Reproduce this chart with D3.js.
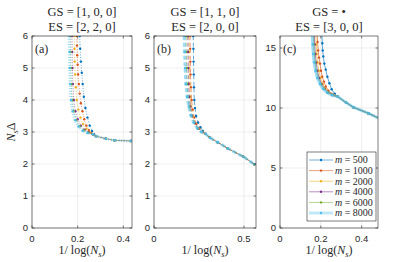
<!DOCTYPE html>
<html>
<head>
<meta charset="utf-8">
<script src="https://cdn.jsdelivr.net/npm/d3@7"></script>
<style>
body { margin: 0; background: #fff; }
svg text { fill: #262626; }
.tick { font-family: "Liberation Sans", Arial, sans-serif; font-size: 9.5px; }
.tex { font-family: "Liberation Serif", "DejaVu Serif", serif; }
</style>
</head>
<body>
<div id="chart"></div>
<script>
// legend series
var mValues = [500, 1000, 2000, 4000, 6000, 8000];
var colors = ["#0072BD", "#D95319", "#EDB120", "#7E2F8E", "#77AC30", "#4DBEEE"];

// panel texts
var gsLabels = ["[1, 0, 0]", "[1, 1, 0]", "\u2022"];
var esLabels = ["[2, 2, 0]", "[2, 0, 0]", "[3, 0, 0]"];
var panelTags = ["(a)", "(b)", "(c)"];

// ticks
var xTicksA = [0, 0.2, 0.4], yTicksA = [0, 1, 2, 3, 4, 5, 6];
var xTicksB = [0, 0.5],      yTicksB = [0, 1, 2, 3, 4, 5, 6];
var xTicksC = [0, 0.2, 0.4], yTicksC = [0, 5, 10, 15];

// (a) one array per m, [1/log(Ns), Ns*Delta]
var curvesA = [
  [[0.208,6.4],[0.209,6.0],[0.211,5.6],[0.214,5.2],[0.218,4.85],[0.222,4.5],[0.227,4.1],[0.234,3.75],[0.243,3.45],[0.253,3.2],[0.263,3.03],[0.272,2.93]],
  [[0.195,6.4],[0.196,6.0],[0.197,5.7],[0.198,5.4],[0.2,5.1],[0.202,4.8],[0.205,4.5],[0.209,4.2],[0.214,3.9],[0.221,3.65],[0.229,3.4],[0.238,3.2],[0.249,3.06],[0.26,2.97],[0.27,2.92]],
  [[0.184,6.4],[0.185,6.0],[0.186,5.6],[0.187,5.2],[0.189,4.8],[0.192,4.4],[0.196,4.0],[0.203,3.7],[0.212,3.45],[0.224,3.25],[0.238,3.1],[0.252,3.0],[0.267,2.93]],
  [[0.174,6.4],[0.175,6.0],[0.176,5.5],[0.177,5.0],[0.179,4.5],[0.183,4.0],[0.19,3.65],[0.2,3.4],[0.214,3.2],[0.23,3.07],[0.248,2.99],[0.267,2.93]],
  [[0.167,6.4],[0.168,6.0],[0.169,5.5],[0.17,5.0],[0.172,4.5],[0.176,4.0],[0.183,3.65],[0.194,3.38],[0.209,3.18],[0.227,3.05],[0.246,2.98],[0.267,2.93]],
  [[0.162,6.4],[0.163,6.0],[0.164,5.5],[0.165,5.0],[0.167,4.5],[0.171,4.0],[0.178,3.65],[0.189,3.37],[0.204,3.17],[0.222,3.04],[0.243,2.97],[0.267,2.93]]
];
var tailA = [[0.281,2.87],[0.3235,2.79],[0.361,2.74],[0.434,2.72]];

// (b)
var curvesB = [
  [[0.218,6.4],[0.218,6.0],[0.219,5.6],[0.22,5.2],[0.221,4.8],[0.222,4.4],[0.224,4.0],[0.228,3.75],[0.234,3.5],[0.245,3.3],[0.258,3.15],[0.272,3.03],[0.287,2.94]],
  [[0.2,6.4],[0.2,6.0],[0.201,5.6],[0.202,5.2],[0.203,4.8],[0.205,4.4],[0.209,4.0],[0.215,3.7],[0.224,3.45],[0.236,3.25],[0.252,3.1],[0.27,3.0],[0.287,2.94]],
  [[0.194,6.4],[0.194,6.0],[0.195,5.5],[0.196,5.0],[0.198,4.5],[0.201,4.1],[0.206,3.8],[0.215,3.5],[0.229,3.27],[0.248,3.1],[0.268,3.0],[0.287,2.94]],
  [[0.188,6.4],[0.188,6.0],[0.189,5.5],[0.19,5.0],[0.192,4.5],[0.196,4.1],[0.202,3.8],[0.212,3.5],[0.227,3.27],[0.246,3.1],[0.267,3.0],[0.287,2.94]],
  [[0.177,6.4],[0.178,6.0],[0.179,5.5],[0.181,5.0],[0.184,4.5],[0.189,4.1],[0.196,3.8],[0.207,3.52],[0.223,3.29],[0.243,3.11],[0.265,3.0],[0.287,2.94]],
  [[0.167,6.4],[0.168,6.0],[0.17,5.5],[0.173,5.0],[0.177,4.5],[0.184,4.1],[0.193,3.8],[0.205,3.52],[0.221,3.29],[0.242,3.11],[0.264,3.0],[0.287,2.94]]
];
var tailB = [[0.311,2.82],[0.354,2.68],[0.409,2.49],[0.496,2.23],[0.558,1.99]];

// (c)
var curvesC = [
  [[0.204,16.6],[0.207,15.4],[0.209,14.8],[0.212,14.3],[0.217,13.7],[0.224,13.2],[0.232,12.6],[0.242,12.06],[0.253,11.56],[0.268,11.2],[0.283,10.95]],
  [[0.18,16.6],[0.184,15.5],[0.187,14.8],[0.191,14.2],[0.196,13.7],[0.201,13.1],[0.207,12.6],[0.215,12.2],[0.224,11.8],[0.237,11.45],[0.252,11.2],[0.268,11.05],[0.283,10.95]],
  [[0.174,16.6],[0.177,15.3],[0.18,14.5],[0.184,13.8],[0.19,13.1],[0.198,12.5],[0.209,12.0],[0.223,11.6],[0.24,11.3],[0.26,11.1],[0.283,10.95]],
  [[0.167,16.6],[0.17,15.3],[0.173,14.5],[0.177,13.8],[0.183,13.1],[0.192,12.5],[0.203,12.0],[0.218,11.6],[0.236,11.3],[0.258,11.08],[0.283,10.95]],
  [[0.162,16.6],[0.165,15.3],[0.168,14.5],[0.172,13.8],[0.178,13.1],[0.187,12.5],[0.199,12.0],[0.215,11.6],[0.234,11.3],[0.257,11.08],[0.283,10.95]],
  [[0.157,16.6],[0.16,15.3],[0.163,14.5],[0.167,13.8],[0.174,13.1],[0.183,12.5],[0.196,12.0],[0.212,11.58],[0.231,11.28],[0.255,11.07],[0.283,10.95]]
];
var tailC = [[0.3235,10.45],[0.361,10.05],[0.434,9.55],[0.558,8.55]];

var panels = [
  { curves: curvesA, tail: tailA, xd: [0, 0.438], yd: [0, 6],  left: 32,  right: 132, xt: xTicksA, yt: yTicksA, dash: "1,1.6" },
  { curves: curvesB, tail: tailB, xd: [0, 0.567], yd: [0, 6],  left: 154, right: 256, xt: xTicksB, yt: yTicksB, dash: "4,2.5" },
  { curves: curvesC, tail: tailC, xd: [0, 0.48],  yd: [0, 16], left: 280, right: 378, xt: xTicksC, yt: yTicksC, dash: null }
];

var plotTop = 36, plotBottom = 228;

var svg = d3.select("#chart").append("svg")
    .attr("width", 399)
    .attr("height", 262);

panels.forEach(function(p, i) {
    var x = d3.scaleLinear().domain(p.xd).range([p.left, p.right]);
    var y = d3.scaleLinear().domain(p.yd).range([plotBottom, plotTop]);
    var g = svg.append("g");

    g.append("clipPath").attr("id", "clip" + i)
        .append("rect")
        .attr("x", p.left).attr("y", plotTop)
        .attr("width", p.right - p.left).attr("height", plotBottom - plotTop);

    // grid
    g.selectAll(".gx").data(p.xt).enter().append("line")
        .attr("x1", d => x(d)).attr("x2", d => x(d))
        .attr("y1", plotTop).attr("y2", plotBottom)
        .attr("stroke", "#e3e3e3").attr("stroke-width", 0.6);
    g.selectAll(".gy").data(p.yt).enter().append("line")
        .attr("x1", p.left).attr("x2", p.right)
        .attr("y1", d => y(d)).attr("y2", d => y(d))
        .attr("stroke", "#e3e3e3").attr("stroke-width", 0.6);

    var line = d3.line().x(d => x(d[0])).y(d => y(d[1]));
    var plot = g.append("g").attr("clip-path", "url(#clip" + i + ")");

    p.curves.forEach(function(c, k) {
        var pts = c.concat(p.tail);
        var big = k == 5;
        plot.append("path")
            .datum(pts)
            .attr("d", line)
            .attr("fill", "none")
            .attr("stroke", colors[k])
            .attr("stroke-opacity", big ? 0.55 : 0.7)
            .attr("stroke-width", big ? 3 : 0.9)
            .attr("stroke-dasharray", p.dash);
        plot.selectAll(".m" + k).data(pts).enter().append("circle")
            .attr("cx", d => x(d[0])).attr("cy", d => y(d[1]))
            .attr("r", 1.2)
            .attr("fill", colors[k]);
    });

    // box
    g.append("rect")
        .attr("x", p.left).attr("y", plotTop)
        .attr("width", p.right - p.left).attr("height", plotBottom - plotTop)
        .attr("fill", "none").attr("stroke", "#262626").attr("stroke-width", 0.6);

    // ticks, all four sides
    p.xt.forEach(function(t) {
        g.append("line").attr("x1", x(t)).attr("x2", x(t)).attr("y1", plotBottom).attr("y2", plotBottom - 2.5)
            .attr("stroke", "#262626").attr("stroke-width", 0.6);
        g.append("line").attr("x1", x(t)).attr("x2", x(t)).attr("y1", plotTop).attr("y2", plotTop + 2.5)
            .attr("stroke", "#262626").attr("stroke-width", 0.6);
        g.append("text").attr("class", "tick")
            .attr("x", x(t)).attr("y", plotBottom + 14)
            .attr("text-anchor", "middle")
            .text(t);
    });
    p.yt.forEach(function(t) {
        g.append("line").attr("x1", p.left).attr("x2", p.left + 2.5).attr("y1", y(t)).attr("y2", y(t))
            .attr("stroke", "#262626").attr("stroke-width", 0.6);
        g.append("line").attr("x1", p.right).attr("x2", p.right - 2.5).attr("y1", y(t)).attr("y2", y(t))
            .attr("stroke", "#262626").attr("stroke-width", 0.6);
        g.append("text").attr("class", "tick")
            .attr("x", p.left - 4).attr("y", y(t) + 3.4)
            .attr("text-anchor", "end")
            .text(t);
    });

    var cx = (p.left + p.right) / 2;
    g.append("text").attr("class", "tex")
        .attr("x", cx).attr("y", 16).attr("text-anchor", "middle")
        .attr("font-size", "12.5px")
        .text("GS = " + gsLabels[i]);
    g.append("text").attr("class", "tex")
        .attr("x", cx).attr("y", 30.5).attr("text-anchor", "middle")
        .attr("font-size", "12.5px")
        .text("ES = " + esLabels[i]);

    g.append("text").attr("class", "tex")
        .attr("x", p.left + 3).attr("y", 53)
        .attr("font-size", "12px")
        .text(panelTags[i]);

    // x label
    var xl = g.append("text").attr("class", "tex")
        .attr("x", cx).attr("y", 254).attr("text-anchor", "middle")
        .attr("font-size", "12px");
    xl.append("tspan").text("1/ log(");
    xl.append("tspan").attr("font-style", "italic").text("N");
    xl.append("tspan").attr("font-style", "italic").attr("font-size", "8.5px").attr("dy", 2.5).text("s");
    xl.append("tspan").attr("dy", -2.5).text(")");
});

// y label
var yl = svg.append("text").attr("class", "tex")
    .attr("transform", "translate(15,132) rotate(-90)")
    .attr("text-anchor", "middle")
    .attr("font-size", "12px");
yl.append("tspan").attr("font-style", "italic").text("N");
yl.append("tspan").attr("font-style", "italic").attr("font-size", "8.5px").attr("dy", 2.5).text("s");
yl.append("tspan").attr("dy", -2.5).text("\u0394");

// legend in panel (c)
var lg = svg.append("g");
lg.append("rect")
    .attr("x", 307).attr("y", 152).attr("width", 69).attr("height", 69)
    .attr("fill", "#fff").attr("stroke", "#262626").attr("stroke-width", 0.6);
mValues.forEach(function(m, k) {
    var ly = 160 + k * 10.6;
    lg.append("line")
        .attr("x1", 309).attr("x2", 333).attr("y1", ly).attr("y2", ly)
        .attr("stroke", colors[k])
        .attr("stroke-opacity", k == 5 ? 0.35 : 0.6)
        .attr("stroke-width", k == 5 ? 3 : 0.9);
    lg.append("circle").attr("cx", 321).attr("cy", ly).attr("r", 1.2).attr("fill", colors[k]);
    var t = lg.append("text").attr("class", "tex")
        .attr("x", 335).attr("y", ly + 3.3)
        .attr("font-size", "10px");
    t.append("tspan").attr("font-style", "italic").text("m");
    t.append("tspan").text(" = " + m);
});
</script>
</body>
</html>
